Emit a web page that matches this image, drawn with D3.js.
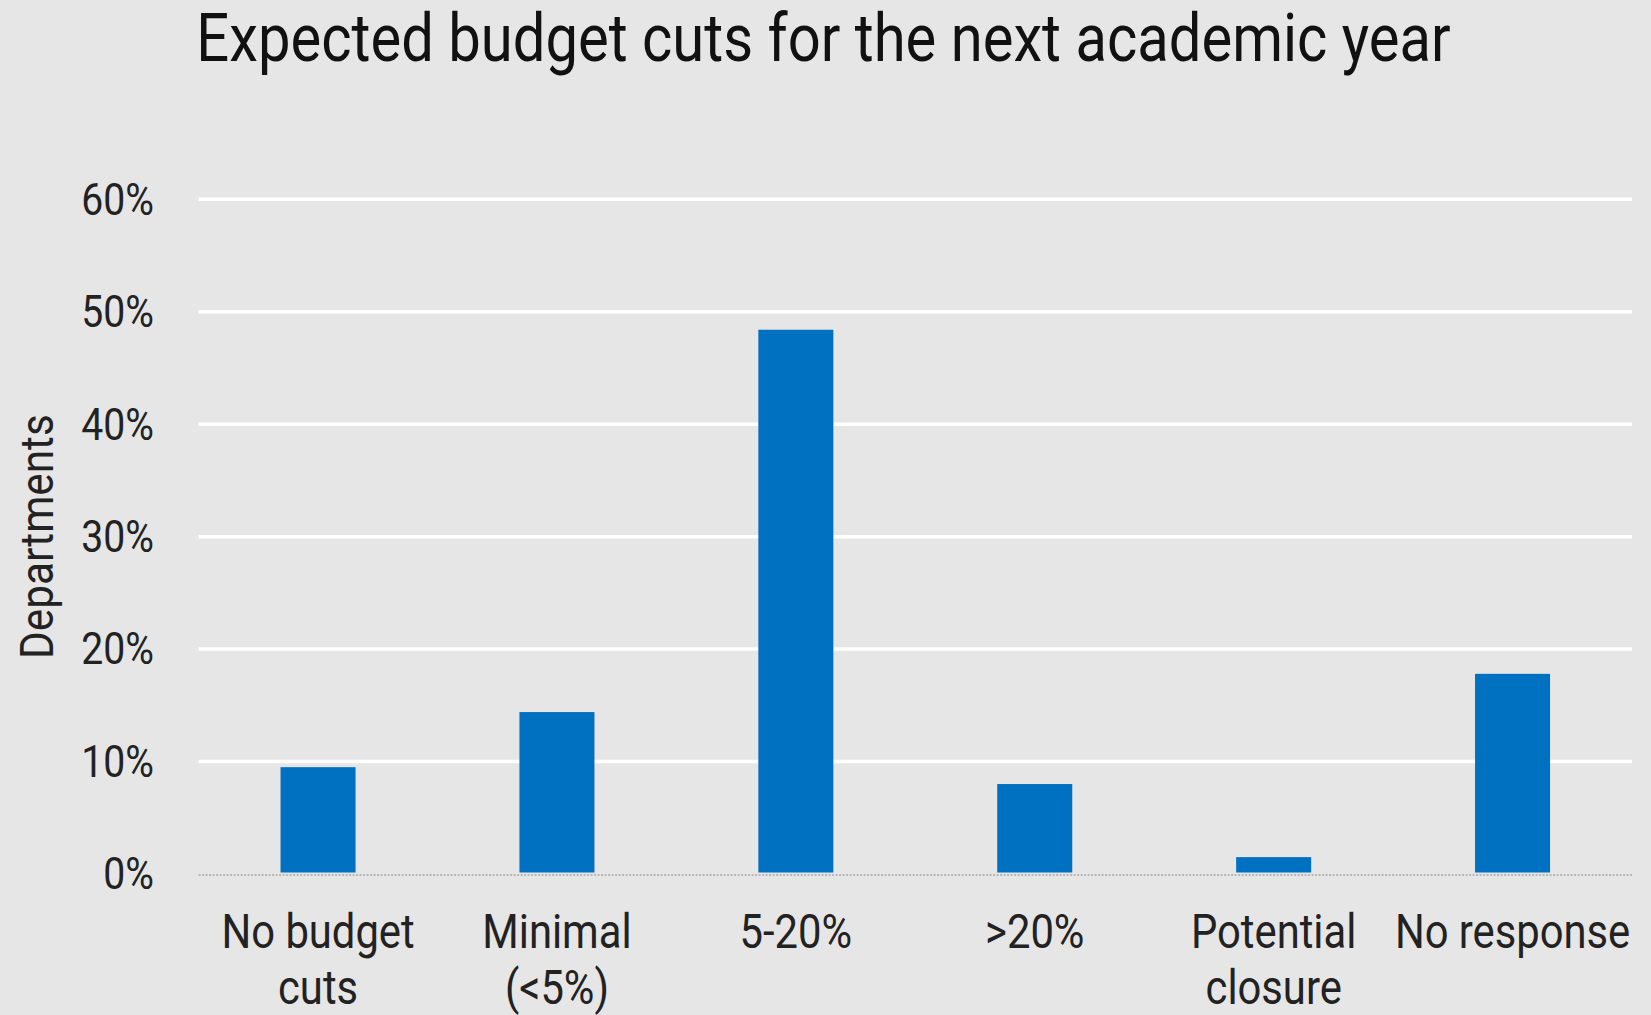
<!DOCTYPE html>
<html>
<head>
<meta charset="utf-8">
<script src="https://cdn.jsdelivr.net/npm/d3@7"></script>
<style>
  body { margin: 0; background: #e7e6e6; }
  svg { display: block; font-family: Roboto, "Noto Sans", sans-serif; }
</style>
</head>
<body>
<svg id="chart" width="1651" height="1015"></svg>
<script>
const categories = ["No budget cuts", "Minimal (<5%)", "5-20%", ">20%", "Potential closure", "No response"];
const categoryLines = [["No budget", "cuts"], ["Minimal", "(<5%)"], ["5-20%"], [">20%"], ["Potential", "closure"], ["No response"]];
const values = [9.5, 14.4, 48.4, 8.0, 1.5, 17.8];
const yTicks = [0, 10, 20, 30, 40, 50, 60];

const squeeze = 0.87; // fake a condensed face

const svg = d3.select("#chart");
const W = 1651, H = 1015;
const plotLeft = 198.6, plotRight = 1632, plotTop = 199.3, plotBottom = 874;

svg.append("rect").attr("width", W).attr("height", H).attr("fill", "#e7e6e6");

const x = d3.scaleBand()
  .domain(categories)
  .range([plotLeft, plotRight])
  .paddingInner(0.686)
  .paddingOuter(0.343);

const y = d3.scaleLinear()
  .domain([0, 60])
  .range([plotBottom, plotTop]);

// gridlines
svg.append("g")
  .selectAll("line")
  .data(yTicks.filter(d => d > 0))
  .join("line")
  .attr("x1", plotLeft)
  .attr("x2", plotRight)
  .attr("y1", d => y(d))
  .attr("y2", d => y(d))
  .attr("stroke", "#ffffff")
  .attr("stroke-width", 3.5);

// baseline
svg.append("line")
  .attr("x1", plotLeft)
  .attr("x2", plotRight)
  .attr("y1", y(0) + 1)
  .attr("y2", y(0) + 1)
  .attr("stroke", "#b8b8b8")
  .attr("stroke-width", 2)
  .attr("stroke-dasharray", "2,1.5");

// bars
svg.append("g")
  .selectAll("rect")
  .data(values)
  .join("rect")
  .attr("x", (d, i) => x(categories[i]))
  .attr("y", d => y(d))
  .attr("width", x.bandwidth())
  .attr("height", d => y(0) - 1.5 - y(d))
  .attr("fill", "#0070c0");

// y axis labels
const yAxis = svg.append("g")
  .attr("transform", `translate(154, 0)`)
  .call(d3.axisLeft(y).tickValues(yTicks).tickFormat(d => d + "%").tickSize(0).tickPadding(0));
yAxis.select(".domain").remove();
yAxis.selectAll("text")
  .attr("font-family", "Roboto")
  .attr("font-size", 45)
  .attr("fill", "#222")
  .attr("x", 0)
  .attr("dy", "0.33em")
  .attr("transform", `scale(${squeeze},1)`);

// x axis labels
const xLabels = svg.append("g")
  .selectAll("g")
  .data(categories)
  .join("g")
  .attr("transform", (d, i) => `translate(${x(d) + x.bandwidth() / 2}, 948) scale(${squeeze},1)`);

xLabels.append("text")
  .attr("text-anchor", "middle")
  .attr("font-size", 48)
  .attr("fill", "#222")
  .selectAll("tspan")
  .data((d, i) => categoryLines[i])
  .join("tspan")
  .attr("x", 0)
  .attr("y", (d, j) => j * 56)
  .text(d => d);

// y axis title
svg.append("g")
  .attr("transform", `translate(53, ${(plotTop + plotBottom) / 2}) rotate(-90) scale(0.92,1)`)
  .append("text")
  .attr("text-anchor", "middle")
  .attr("font-size", 46)
  .attr("fill", "#222")
  .text("Departments");

// title
svg.append("g")
  .attr("transform", `translate(${W / 2 - 2}, 61) scale(0.865,1)`)
  .append("text")
  .attr("text-anchor", "middle")
  .attr("font-size", 67)
  .attr("fill", "#111")
  .text("Expected budget cuts for the next academic year");
</script>
</body>
</html>
